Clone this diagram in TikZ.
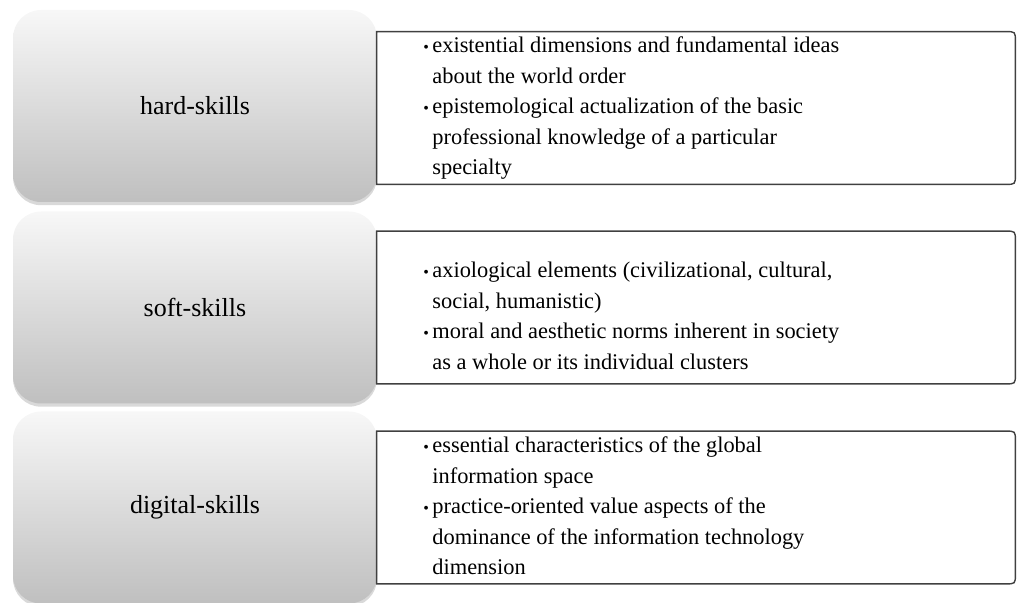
\documentclass[tikz,border=0pt]{standalone}
\usepackage{fontspec}
\setmainfont{Liberation Serif}
\usetikzlibrary{shadows}

\begin{document}
\begin{tikzpicture}[x=0.5pt,y=-0.5pt,
	skill/.style={rounded corners=14pt, minimum width=182pt, minimum height=96pt,
		top color=black!3, bottom color=black!25, draw=none,
		drop shadow={shadow xshift=0pt, shadow yshift=-1.6pt, opacity=0.3},
		font=\fontsize{13}{15}\selectfont},
	frame/.style={minimum width=319pt, minimum height=76pt, inner sep=0pt},
	frameline/.style={draw=black!75, line width=0.7pt},
	bullets/.style={anchor=base west, inner sep=0pt, font=\fontsize{11.2}{15.2}\selectfont}]
	\newcommand{\bul}{\makebox[4.5pt][l]{\fontsize{8}{8}\selectfont\textbullet}}
	\newcommand{\rframe}[1]{\draw[frameline] (#1.north west) -- ([xshift=-5pt]#1.north east)
		.. controls (#1.north east) .. ([yshift=-5pt]#1.north east) -- ([yshift=5pt]#1.south east)
		.. controls (#1.south east) .. ([xshift=-5pt]#1.south east) -- (#1.south west) -- cycle;}
	\useasboundingbox (0,0) rectangle (1017,603);
	% left: skill boxes
	\node[skill] (hard) at (195,106) {hard-skills};
	\node[skill] (soft) at (195,307.5) {soft-skills};
	\node[skill] (digital) at (195,507.5) {digital-skills};
	% right: frames
	\node[frame] (hardF) at (696,108) {};
	\node[frame] (softF) at (696,307.5) {};
	\node[frame] (digitalF) at (696,507.5) {};
	\rframe{hardF}
	\rframe{softF}
	\rframe{digitalF}
	% right: texts
	\node[bullets] (hardT) at (423,53) {\begin{tabular}[t]{@{}l@{}l@{}}
		\bul & existential dimensions and fundamental ideas\\
		& about the world order\\
		\bul & epistemological actualization of the basic\\
		& professional knowledge of a particular\\
		& specialty
	\end{tabular}};
	\node[bullets] (softT) at (423,278) {\begin{tabular}[t]{@{}l@{}l@{}}
		\bul & axiological elements (civilizational, cultural,\\
		& social, humanistic)\\
		\bul & moral and aesthetic norms inherent in society\\
		& as a whole or its individual clusters
	\end{tabular}};
	\node[bullets] (digitalT) at (423,453) {\begin{tabular}[t]{@{}l@{}l@{}}
		\bul & essential characteristics of the global\\
		& information space\\
		\bul & practice-oriented value aspects of the\\
		& dominance of the information technology\\
		& dimension
	\end{tabular}};
\end{tikzpicture}
\end{document}
